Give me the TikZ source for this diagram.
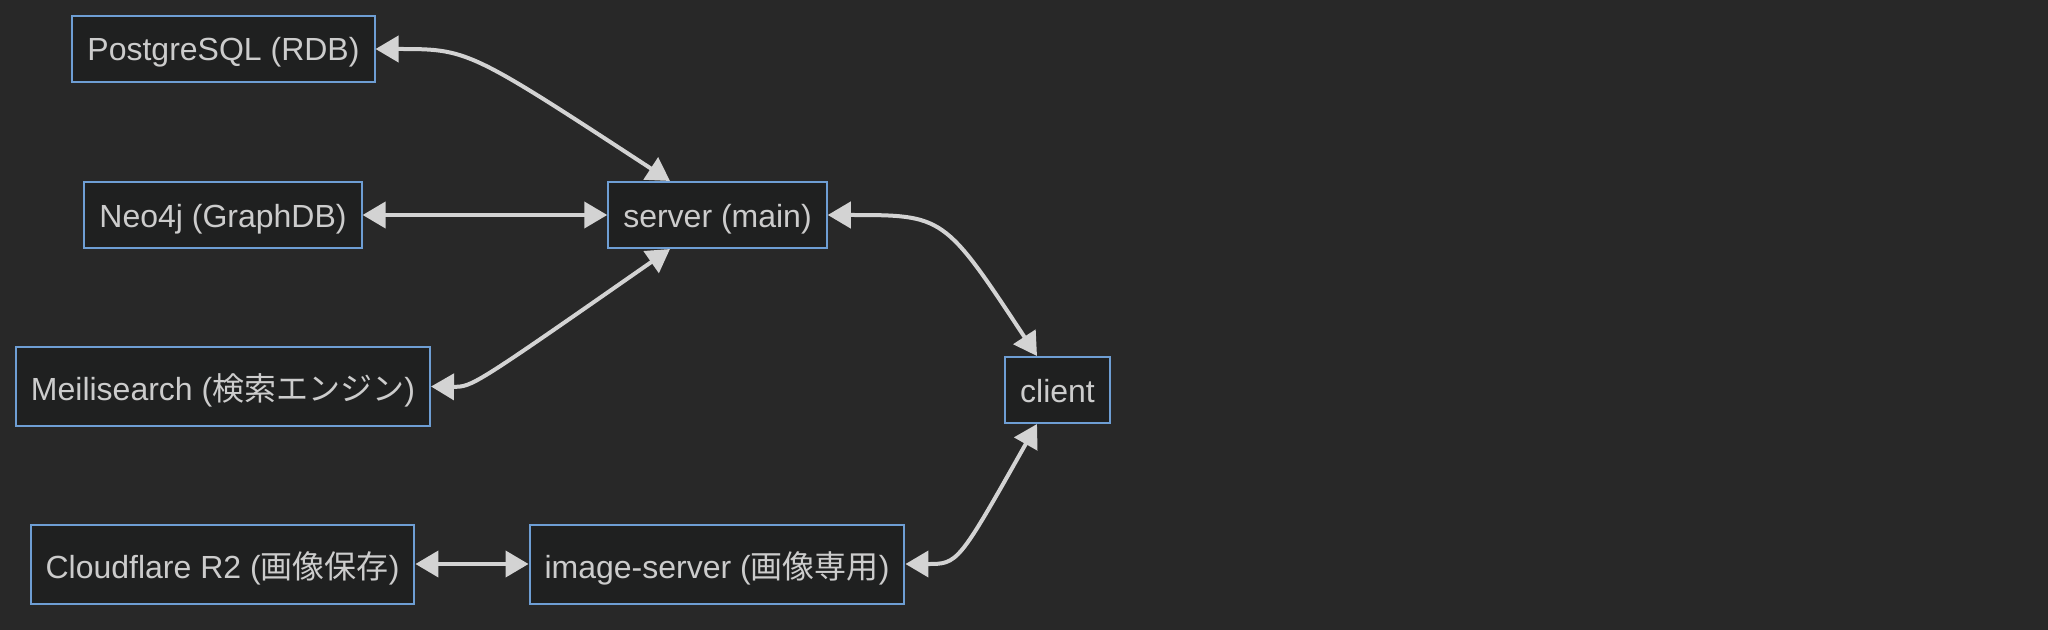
\documentclass[tikz,border=0pt]{standalone}
\usepackage{fontspec}
\setmainfont{Liberation Sans}
\newfontfamily\jpfont{Noto Sans CJK JP}
\usetikzlibrary{arrows.meta}
\definecolor{bgdark}{RGB}{40,40,40}
\definecolor{boxfill}{RGB}{31,32,32}
\definecolor{boxline}{RGB}{110,158,212}
\definecolor{textgray}{RGB}{204,204,204}
\definecolor{edgegray}{RGB}{211,211,211}
\tikzset{
  svc/.style={draw=boxline, line width=1bp, fill=boxfill, text=textgray,
    font=\fontsize{16bp}{19bp}\selectfont, inner xsep=7.5bp, inner ysep=0pt,
    text height=15.5bp, text depth=3.5bp, minimum height=33bp},
  svcjp/.style={svc, text height=17.5bp, minimum height=39.5bp},
  link/.style={draw=edgegray, line width=2bp,
    {Triangle[length=11.5bp,width=13bp]}-{Triangle[length=11.5bp,width=13bp]}}
}
\begin{document}
\begin{tikzpicture}[x=0.5bp, y=-0.5bp]
    \fill[bgdark] (0,0) rectangle (2048,630);% background
    \useasboundingbox (0,0) rectangle (2048,630);
    % storage side
    \node[svc] (postgres) at (223.5,49) {PostgreSQL (RDB)};
    \node[svc] (neo4j) at (223,215) {Neo4j (GraphDB)};
    \node[svcjp] (meili) at (223,386.5) {Meilisearch ({\jpfont 検索エンジン})};
    \node[svcjp] (cloudflare) at (222.5,564) {Cloudflare R2 ({\jpfont 画像保存})};
    % servers and client
    \node[svc] (server) at (717.5,215) {server (main)};
    \node[svcjp] (imgserver) at (717,564) {image-server ({\jpfont 画像専用})};
    \node[svc] (client) at (1057.5,390) {client};
    \draw[link] (postgres.east) .. controls (468,49) .. ([xshift=-23.75bp]server.north);
    \draw[link] (neo4j.east) -- (server.west);
    \draw[link] (meili.east) .. controls (472,387) .. ([xshift=-23.75bp]server.south);
    \draw[link] (server.east) .. controls (944,215) .. ([xshift=-10.25bp]client.north);
    \draw[link] (cloudflare.east) -- (imgserver.west);
    \draw[link] (imgserver.east) .. controls (958,564) .. ([xshift=-10.25bp]client.south);
\end{tikzpicture}
\end{document}
